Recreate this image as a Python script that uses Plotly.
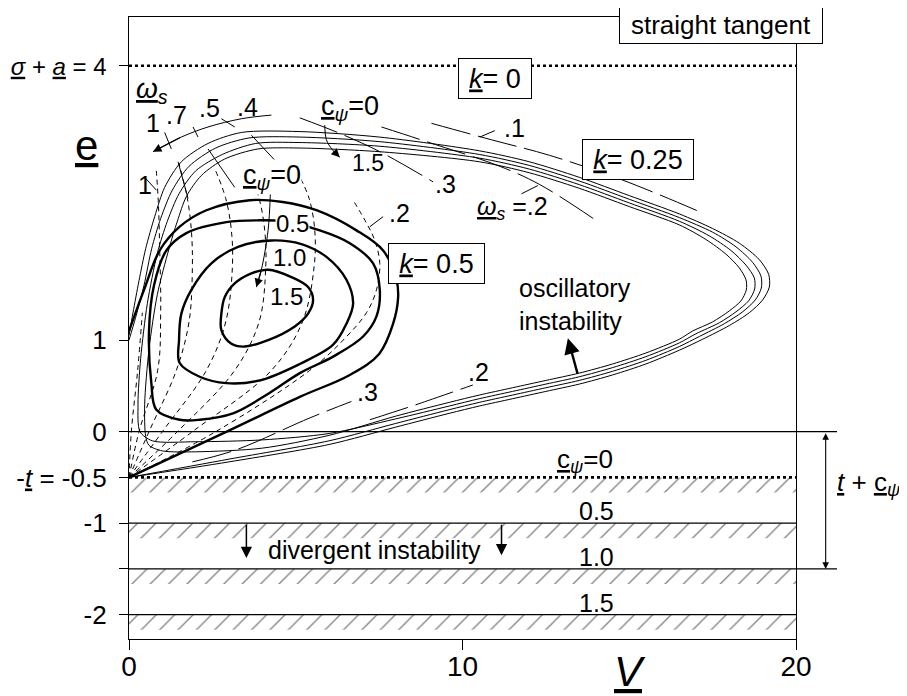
import plotly.graph_objects as go

# ---------------- data (V, e) ----------------
# k = 0.25 family (thin solid)
k025_a_V = [0, 3, 6, 8, 9.6, 10.5, 11.5, 12.5, 13.5, 14.5, 15.5, 16.5, 17.2, 18.0, 18.6, 19.0, 19.2, 19.18, 18.9, 18.3, 17.5, 16.5, 15, 13.5, 12, 10.5, 7.5, 5.1, 3.37, 2.37, 1.57, 1.07, 0.77, 0.5, 0.3, 0.12, 0]
k025_a_e = [-0.5, -0.33, -0.14, 0.05, 0.2, 0.28, 0.36, 0.44, 0.52, 0.62, 0.74, 0.89, 1.01, 1.16, 1.3, 1.44, 1.58, 1.72, 1.88, 2.06, 2.22, 2.38, 2.58, 2.78, 2.95, 3.07, 3.22, 3.28, 3.27, 3.15, 2.95, 2.67, 2.35, 2.0, 1.65, 1.3, 1.05]
k025_b_V = [0, 3, 6, 8, 9.6, 10.5, 11.5, 12.5, 13.5, 14.5, 15.5, 16.5, 17.1, 17.85, 18.4, 18.78, 18.96, 18.95, 18.7, 18.2, 17.5, 16.5, 15, 13.5, 12, 10.5, 7.5, 5.1, 3.6, 2.6, 1.8, 1.3, 0.95, 0.68, 0.45, 0.2, 0]
k025_b_e = [-0.5, -0.3, -0.1, 0.09, 0.24, 0.32, 0.40, 0.48, 0.56, 0.66, 0.78, 0.93, 1.04, 1.18, 1.31, 1.44, 1.57, 1.7, 1.85, 2.02, 2.18, 2.34, 2.54, 2.74, 2.91, 3.03, 3.17, 3.22, 3.21, 3.1, 2.9, 2.64, 2.33, 2.0, 1.6, 1.25, 1.0]
k025_c_V = [0.7, 2, 4, 6, 8, 9.6, 10.5, 11.5, 12.5, 13.5, 14.5, 15.5, 16.5, 17.0, 17.7, 18.2, 18.58, 18.76, 18.75, 18.5, 18.05, 17.4, 16.5, 15, 13.5, 12, 10.5, 7.5, 5.1, 3.8, 2.8, 2.0, 1.5, 1.15, 0.85, 0.55, 0.35, 0.27, 0.33, 0.7]
k025_c_e = [-0.1, -0.11, -0.09, -0.02, 0.14, 0.28, 0.36, 0.44, 0.52, 0.6, 0.7, 0.82, 0.97, 1.07, 1.19, 1.31, 1.43, 1.56, 1.68, 1.82, 1.98, 2.14, 2.3, 2.5, 2.7, 2.87, 2.99, 3.12, 3.16, 3.15, 3.03, 2.85, 2.6, 2.3, 1.95, 1.4, 0.8, 0.3, 0.0, -0.1]
k025_d_V = [1.0, 2, 4, 6, 8, 9.6, 10.5, 11.5, 12.5, 13.5, 14.5, 15.5, 16.5, 16.9, 17.5, 18.0, 18.35, 18.51, 18.5, 18.3, 17.9, 17.3, 16.5, 15, 13.5, 12, 10.5, 7.5, 5.1, 3.87, 2.87, 2.17, 1.72, 1.45, 1.2, 0.85, 0.6, 0.47, 0.5, 0.6, 1.0]
k025_d_e = [-0.21, -0.22, -0.18, -0.04, 0.17, 0.32, 0.40, 0.48, 0.56, 0.64, 0.74, 0.86, 1.01, 1.1, 1.2, 1.32, 1.43, 1.55, 1.66, 1.79, 1.94, 2.1, 2.26, 2.46, 2.66, 2.83, 2.95, 3.06, 3.1, 3.09, 2.98, 2.8, 2.57, 2.3, 2.0, 1.5, 0.9, 0.3, -0.05, -0.15, -0.21]

# k = 0.5 family (thick solid), c_psi = 0, 0.5, 1.0, 1.5
k05_c0_V = [0, 2.93, 5.12, 6.62, 7.5, 7.92, 8.07, 8.02, 7.62, 6.82, 5.62, 4.61, 3.62, 2.32, 1.52, 0.92, 0.45, 0]
k05_c0_e = [-0.5, 0.0, 0.38, 0.62, 0.85, 1.18, 1.47, 1.66, 1.98, 2.2, 2.42, 2.51, 2.53, 2.42, 2.24, 1.98, 1.55, 1.1]
k05_c05_V = [0.82, 1.52, 2.12, 3.12, 4.2, 5.12, 6.12, 7.02, 7.42, 7.52, 7.32, 6.62, 5.72, 4.6, 3.92, 2.92, 1.72, 1.12, 0.75, 0.6, 0.67, 0.82]
k05_c05_e = [0.24, 0.13, 0.13, 0.2, 0.42, 0.64, 0.82, 1.04, 1.26, 1.55, 1.84, 2.06, 2.2, 2.3, 2.31, 2.29, 2.17, 1.98, 1.6, 1.1, 0.53, 0.24]
k05_c10_V = [1.52, 1.5, 1.57, 1.87, 2.47, 3.27, 4.27, 5.17, 5.92, 6.52, 6.72, 6.52, 6.12, 5.12, 3.92, 2.92, 2.12, 1.52]
k05_c10_e = [0.75, 1.0, 1.29, 1.55, 1.84, 2.02, 2.09, 2.05, 1.91, 1.66, 1.4, 1.18, 0.95, 0.74, 0.56, 0.53, 0.6, 0.75]
k05_c15_V = [2.77, 2.87, 3.17, 3.67, 4.17, 4.87, 5.37, 5.52, 5.37, 4.97, 4.17, 3.47, 3.07, 2.77, 2.77]
k05_c15_e = [1.29, 1.47, 1.62, 1.73, 1.77, 1.69, 1.58, 1.44, 1.29, 1.15, 1.0, 0.93, 0.96, 1.11, 1.29]

# omega_s contours (short dashes)
ws_1_V = [0, 0.07, 0.26, 0.4]
ws_1_e = [-0.5, 0.0, 0.67, 1.3]
ws_2_V = [0, 0.3, 0.86, 0.95, 0.92, 0.88, 0.82]
ws_2_e = [-0.5, 0.0, 0.67, 1.3, 2.0, 2.5, 2.85]
ws_3_V = [0, 0.6, 1.42, 1.8, 1.9, 1.87, 1.75, 1.5]
ws_3_e = [-0.5, 0.0, 0.67, 1.2, 1.8, 2.2, 2.55, 2.93]
ws_4_V = [0, 1.0, 2.32, 2.9, 3.1, 3.07, 2.9, 2.6]
ws_4_e = [-0.5, 0.0, 0.67, 1.2, 1.8, 2.2, 2.55, 2.85]
ws_5_V = [0, 1.45, 3.17, 3.9, 4.1, 4.07, 3.9, 3.6]
ws_5_e = [-0.5, 0.0, 0.67, 1.2, 1.8, 2.2, 2.55, 2.85]
ws_6_V = [0, 1.9, 4.27, 5.2, 5.55, 5.57, 5.4, 5.1]
ws_6_e = [-0.5, 0.0, 0.67, 1.2, 1.8, 2.2, 2.55, 2.8]
ws_7_V = [0, 2.6, 5.42, 6.42, 7.12, 7.42, 7.52, 7.37, 7.12, 6.72]
ws_7_e = [-0.5, 0.0, 0.67, 1.0, 1.3, 1.55, 1.84, 2.09, 2.28, 2.53]

# omega_s contours across the k = 0.25 band (long dashes)
wl_1_V = [9.07, 10.87, 12.61, 14.8, 17.2]
wl_1_e = [3.37, 3.19, 3.02, 2.75, 2.39]
wl_2_V = [7.57, 8.92, 11.12, 12.32, 13.92]
wl_2_e = [3.33, 3.17, 2.9, 2.7, 2.33]
wl_3_V = [5.12, 6.32, 7.52, 9.12]
wl_3_e = [3.43, 3.26, 3.06, 2.73]
wl_4_V = [1.9, 3.2, 5.42, 6.67]
wl_4_e = [-0.33, -0.2, 0.15, 0.33]
wl_5_V = [7.22, 8.57, 8.97, 10.31]
wl_5_e = [0.13, 0.29, 0.34, 0.51]

# short solid marks
mk_V = [[3.67, 4.57], [2.37, 3.17], [1.47, 1.77], [0.47, 0.82], [1.07, 1.27], [1.92, 2.07], [2.77, 3.17],
        [7.22, 7.62], [10.52, 10.97], [11.77, 12.26]]
mk_e = [[3.24, 2.89], [3.09, 2.67], [2.95, 2.55], [2.78, 2.64], [3.27, 3.09], [3.33, 3.22], [3.42, 3.33],
        [2.24, 2.35], [3.22, 3.29], [2.6, 2.69]]

# curved arrows
arr_ws_V = [4.27, 3.37, 2.37, 1.57, 0.72]
arr_ws_e = [3.46, 3.42, 3.33, 3.22, 3.06]
arr_cu_V = [5.87, 5.92, 6.1, 6.32]
arr_cu_e = [3.35, 3.19, 3.08, 3.0]
arr_cl_V = [4.24, 4.17, 3.97, 3.82]
arr_cl_e = [2.62, 2.2, 1.77, 1.58]

# divergence boundaries e = -t - c_psi
div_levels = [-0.5, -1.0, -1.5, -2.0]
div_labels = ["<u>c</u><sub><i>ψ</i></sub>=0", "0.5", "1.0", "1.5"]
hatch_depth = 0.165

y_tickvals = [4, 1, 0, -0.5, -1, -1.5, -2]
y_ticktext = ["<span style='font-size:24px'><u><i>σ</i></u> + <u><i>a</i></u> = 4</span>", "1", "0",
              "-<u><i>t</i></u> = -0.5", "-1", "", "-2"]
x_tickvals = [0, 10, 20]

FONT = "Liberation Sans, Arial, sans-serif"
fig = go.Figure()

# hatched bands
for lv in div_levels:
    fig.add_trace(go.Scatter(
        x=[0, 20, 20, 0, 0], y=[lv, lv, lv - hatch_depth, lv - hatch_depth, lv],
        mode="lines", fill="toself", line=dict(width=0), fillcolor="white",
        fillpattern=dict(shape="/", fgcolor="black", bgcolor="white", size=13, solidity=0.1),
        hoverinfo="skip", showlegend=False))


def curve(V, e, width=1.0, dash="solid", smooth=1.0):
    fig.add_trace(go.Scatter(x=V, y=e, mode="lines",
                             line=dict(color="black", width=width, dash=dash,
                                       shape="spline" if smooth else "linear", smoothing=smooth),
                             hoverinfo="skip", showlegend=False))


for V, e in [(k025_a_V, k025_a_e), (k025_b_V, k025_b_e), (k025_c_V, k025_c_e), (k025_d_V, k025_d_e)]:
    curve(V, e, 1.0, smooth=0.8)
for V, e in [(k05_c0_V, k05_c0_e), (k05_c05_V, k05_c05_e), (k05_c10_V, k05_c10_e), (k05_c15_V, k05_c15_e)]:
    curve(V, e, 2.4)
for V, e in [(ws_1_V, ws_1_e), (ws_2_V, ws_2_e), (ws_3_V, ws_3_e), (ws_4_V, ws_4_e),
             (ws_5_V, ws_5_e), (ws_6_V, ws_6_e), (ws_7_V, ws_7_e)]:
    curve(V, e, 1.0, "5px,4px")
for V, e in [(wl_1_V, wl_1_e), (wl_2_V, wl_2_e), (wl_3_V, wl_3_e), (wl_4_V, wl_4_e), (wl_5_V, wl_5_e)]:
    curve(V, e, 1.0, "40px,8px")
for V, e in zip(mk_V, mk_e):
    curve(V, e, 1.0, smooth=0)
for V, e in [(arr_ws_V, arr_ws_e), (arr_cu_V, arr_cu_e), (arr_cl_V, arr_cl_e)]:
    curve(V, e, 1.0)

# reference lines
shapes = []
for lv in [0, -1.5]:
    shapes.append(dict(type="line", xref="paper", yref="y", x0=0, x1=1.0615, y0=lv, y1=lv,
                       line=dict(color="black", width=1.2)))
for lv in [-1.0, -2.0]:
    shapes.append(dict(type="line", xref="x", yref="y", x0=0, x1=20, y0=lv, y1=lv,
                       line=dict(color="black", width=1.2)))
for lv in [4, -0.5]:
    shapes.append(dict(type="line", xref="x", yref="y", x0=0, x1=20, y0=lv, y1=lv,
                       line=dict(color="black", width=2.6, dash="dot")))

ann = []


def text(x, y, s, size=24, **kw):
    d = dict(x=x, y=y, xref="x", yref="y", text=s, showarrow=False,
             font=dict(family=FONT, size=size, color="black"))
    d.update(kw)
    ann.append(d)


def arrow(x, y, ax, ay, size=1.3, width=1.2, **kw):
    d = dict(x=x, y=y, ax=ax, ay=ay, xref="x", yref="y", axref="x", ayref="y", text="",
             showarrow=True, arrowhead=2, arrowsize=size, arrowwidth=width, arrowcolor="black")
    d.update(kw)
    ann.append(d)


CPSI = "<u>c</u><sub><i>ψ</i></sub>=0"
text(0.68, 3.73, "<u><i>ω</i></u><sub><i>s</i></sub>", 28)
text(0.71, 3.37, "1", 25)
text(1.43, 3.46, ".7", 25)
text(2.42, 3.54, ".5", 25)
text(3.56, 3.55, ".4", 25)
text(0.47, 2.70, "1", 25)
text(6.62, 3.54, CPSI, 27)
text(7.16, 2.94, "1.5", 23)
text(9.5, 2.71, ".3", 25)
text(11.57, 3.32, ".1", 25)
text(11.5, 2.44, "<u><i>ω</i></u><sub><i>s</i></sub> =.2", 25)
text(4.28, 2.78, CPSI, 27, bgcolor="white", borderpad=0)
text(4.9, 2.28, "0.5", 24, bgcolor="white", borderpad=0)
text(4.82, 1.9, "1.0", 24)
text(4.73, 1.48, "1.5", 24)
text(8.12, 2.39, ".2", 25)
text(7.16, 0.43, ".3", 25)
text(10.49, 0.65, ".2", 25)
text(11.63, 1.39, "oscillatory<br>instability", 25, xanchor="left", align="left")
text(4.12, -1.29, "divergent instability", 25, xanchor="left")
div_label_pos = [(13.67, -0.31), (14.03, -0.87), (14.03, -1.37), (14.03, -1.87)]
for (lx, ly), s in zip(div_label_pos, div_labels):
    text(lx, ly, s, 25 if s != div_labels[0] else 26)

box = dict(bgcolor="white", bordercolor="black", borderwidth=1, borderpad=1)
text(10.97, 3.86, "<u><i>k</i></u>= 0", 27, width=70, height=37, **box)
text(15.25, 2.98, "<u><i>k</i></u>= 0.25", 27, width=108, height=37, **box)
text(9.22, 1.84, "<u><i>k</i></u>= 0.5", 27, width=93, height=37, **box)
text(17.74, 4.44, "straight tangent", 26, width=200, height=34, **box)

# axis titles
ann.append(dict(x=-0.063, y=3.13, xref="paper", yref="y", text="<u>e</u>", showarrow=False,
                xanchor="center", yanchor="middle",
                font=dict(family=FONT, size=42, color="black")))
ann.append(dict(x=15.01, y=-0.053, xref="x", yref="paper", text="<u><i>V</i></u>", showarrow=False,
                xanchor="center", yanchor="middle", font=dict(family=FONT, size=42, color="black")))
ann.append(dict(x=1.108, y=-0.57, xref="paper", yref="y",
                text="<u><i>t</i></u> + <u>c</u><sub><i>ψ</i></sub>", showarrow=False,
                xanchor="center", yanchor="middle",
                font=dict(family=FONT, size=26, color="black")))

# arrows
arrow(arr_ws_V[-1], arr_ws_e[-1], arr_ws_V[-2], arr_ws_e[-2], 1.4)
arrow(arr_cu_V[-1], arr_cu_e[-1], arr_cu_V[-2], arr_cu_e[-2], 1.4)
arrow(arr_cl_V[-1], arr_cl_e[-1], arr_cl_V[-2], arr_cl_e[-2], 1.4)
arrow(13.16, 1.02, 13.46, 0.62, 1.3, 2.4)
arrow(3.52, -1.38, 3.52, -1.0, 1.5, 1.5)
arrow(11.17, -1.35, 11.17, -1.0, 1.5, 1.5)
ann.append(dict(x=1.0445, y=-1.5, xref="paper", yref="y", ax=0, ay=0, axref="pixel", ayref="y",
                text="", showarrow=True, arrowhead=2, startarrowhead=2, arrowside="end+start",
                arrowsize=1.2, arrowwidth=1.1, arrowcolor="black"))

# the page body adds an 8 px margin; the figure is sized so the plot box lands where the reference has it
fig.update_layout(
    width=899, height=688, margin=dict(l=121, r=111, t=9, b=57, autoexpand=False),
    paper_bgcolor="white", plot_bgcolor="white",
    font=dict(family=FONT, color="black"),
    shapes=shapes, annotations=ann, showlegend=False,
    xaxis=dict(range=[0, 20], tickvals=x_tickvals, ticks="outside", ticklen=10, tickwidth=1.2,
               tickcolor="black", showline=True, linecolor="black", linewidth=1.3, mirror=True,
               showgrid=False, zeroline=False, automargin=False, ticklabelstandoff=-8,
               tickfont=dict(size=28, family=FONT)),
    yaxis=dict(range=[-2.266, 4.532], tickvals=y_tickvals, ticktext=y_ticktext, ticks="outside",
               ticklen=9, tickwidth=1.2, tickcolor="black", showline=True, linecolor="black",
               linewidth=1.3, mirror=True, showgrid=False, zeroline=False, automargin=False,
               ticklabelstandoff=7, tickfont=dict(size=26, family=FONT)),
)
fig.write_html("out.html")
